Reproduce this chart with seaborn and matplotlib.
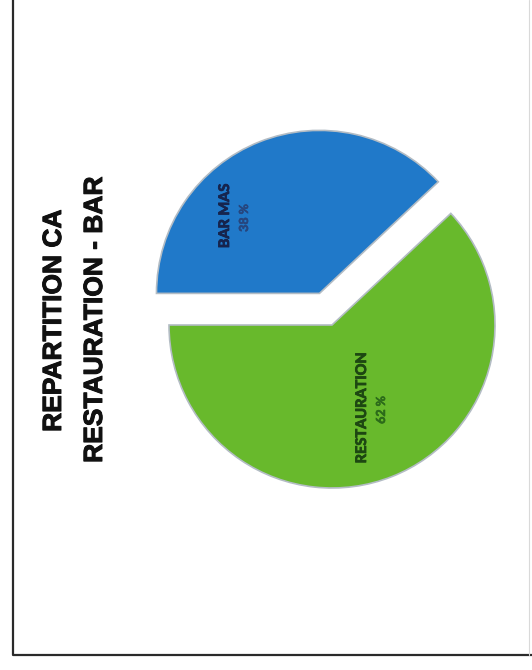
import matplotlib
matplotlib.use("Agg")
import matplotlib.pyplot as plt
import matplotlib.patheffects as pe
import seaborn as sns

# Revenue split between the restaurant and the bar
categories = ["RESTAURATION", "BAR MAS"]
shares = [62, 38]
pct_labels = ["62 %", "38 %"]
title_lines = ["REPARTITION CA", "RESTAURATION - BAR"]

sns.set_theme(style="white")
plt.rcParams["font.family"] = ["Liberation Sans", "DejaVu Sans"]

colors = ["#68b92c", "#2079c9"]
name_colors = ["#1d4712", "#16244d"]
pct_colors = ["#2c6a1a", "#27467e"]

W, H = 532, 670
fig = plt.figure(figsize=(W / 100, H / 100), dpi=100)
ax = fig.add_axes([0, 0, 1, 1])

# Pie, turned a quarter so the labels read bottom to top
center = (332, 345)
radius = 163
wedges, _ = ax.pie(
    shares,
    colors=colors,
    startangle=180,
    counterclock=True,
    explode=[0, 34],
    center=center,
    radius=radius,
    wedgeprops=dict(edgecolor="#b3bcc4", linewidth=1.2),
)
ax.set_xlim(0, W)
ax.set_ylim(0, H)
ax.set_aspect("equal")
ax.axis("off")

# Page frame
ax.plot([13, 13, W], [H, 15, 15], color="#2a2a2a", lw=1.6, solid_capstyle="butt")
ax.plot([529, 529], [15, H], color="#d9d9d9", lw=0.8)

thick = [pe.withStroke(linewidth=0.7, foreground=c) for c in ("#111111",)]

# Slice labels
label_pos = [(372, 262), (235, 454)]
for (x, y), name, pct, nc, pc in zip(label_pos, categories, pct_labels, name_colors, pct_colors):
    ax.text(x - 10, y, name, rotation=90, ha="center", va="center",
            fontsize=10.5, fontweight="bold", color=nc, family=["Lato", "DejaVu Sans"],
            path_effects=[pe.withStroke(linewidth=0.6, foreground=nc)])
    ax.text(x + 9, y - 2, pct, rotation=90, ha="center", va="center",
            fontsize=9, fontweight="bold", color=pc, family=["Lato", "DejaVu Sans"],
            path_effects=[pe.withStroke(linewidth=0.4, foreground=pc)])

# Two-line title on the left side
ax.text(54, H - 321, title_lines[0], rotation=90, ha="center", va="center",
        fontsize=19, fontweight="bold", color="#111111", path_effects=thick)
ax.text(95, H - 320, title_lines[1], rotation=90, ha="center", va="center",
        fontsize=19, fontweight="bold", color="#111111", path_effects=thick)

fig.savefig("out.png", dpi=100, facecolor="white")
